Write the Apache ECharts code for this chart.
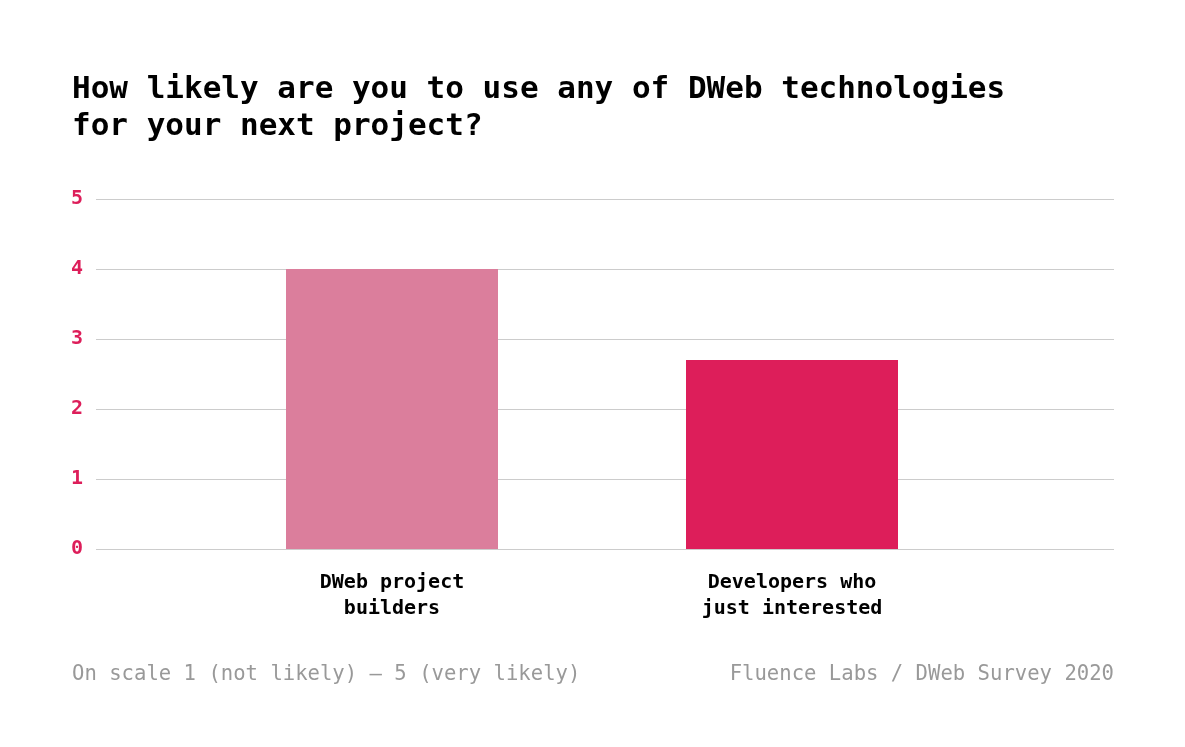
<!DOCTYPE html>
<html>
<head>
<meta charset="utf-8">
<script src="https://cdn.jsdelivr.net/npm/echarts@6/dist/echarts.min.js"></script>
<style>html,body{margin:0;padding:0;background:#fff}#c{width:1185px;height:747px}</style>
</head>
<body>
<div id="c"></div>
<script>
const titleText = 'How likely are you to use any of DWeb technologies\nfor your next project?';
const categories = ['DWeb project\nbuilders', 'Developers who\njust interested'];
const values = [4, 2.7];
const barColors = ['#db7e9c', '#dd1e5a'];
const yTicks = [0, 1, 2, 3, 4, 5];
const noteLeft = 'On scale 1 (not likely) \u2014 5 (very likely)';
const noteRight = 'Fluence Labs / DWeb Survey 2020';

const mono = '"DejaVu Sans Mono", "Liberation Mono", monospace';
const chart = echarts.init(document.getElementById('c'));
chart.setOption({
  animation: false,
  backgroundColor: '#fff',
  title: {
    text: titleText, left: 67, top: 66,
    textStyle: { fontFamily: mono, fontWeight: 'bold', fontSize: 31, lineHeight: 37, color: '#000' }
  },
  graphic: [
    { type: 'text', left: 72, top: 664, style: { text: noteLeft, font: '20.6px ' + mono, fill: '#999' } },
    { type: 'text', right: 71, top: 664, style: { text: noteRight, font: '20.6px ' + mono, fill: '#999' } }
  ],
  grid: [
    { left: 96, right: 71, top: 199, bottom: 198 },
    { left: 192, right: 193, top: 199, bottom: 198 }
  ],
  xAxis: [
    { gridIndex: 0, type: 'category', data: categories, show: false },
    {
      gridIndex: 1, type: 'category', data: categories,
      axisLine: { show: false }, axisTick: { show: false },
      axisLabel: { margin: 21, fontFamily: mono, fontSize: 20, lineHeight: 26, color: '#000', fontWeight: 'bold' }
    }
  ],
  yAxis: [
    {
      gridIndex: 0, type: 'value', min: yTicks[0], max: yTicks[yTicks.length - 1], interval: 1,
      axisLine: { show: false }, axisTick: { show: false },
      splitLine: { lineStyle: { color: '#cccccc', width: 1 } },
      axisLabel: { margin: 13, fontFamily: mono, fontWeight: 'bold', fontSize: 20, color: '#dd1e5a' }
    },
    {
      gridIndex: 1, type: 'value', min: yTicks[0], max: yTicks[yTicks.length - 1], interval: 1, show: false
    }
  ],
  series: [{
    type: 'bar', xAxisIndex: 1, yAxisIndex: 1,
    barWidth: 212,
    data: values.map((v, i) => ({ value: v, itemStyle: { color: barColors[i] } }))
  }]
});
</script>
</body>
</html>
